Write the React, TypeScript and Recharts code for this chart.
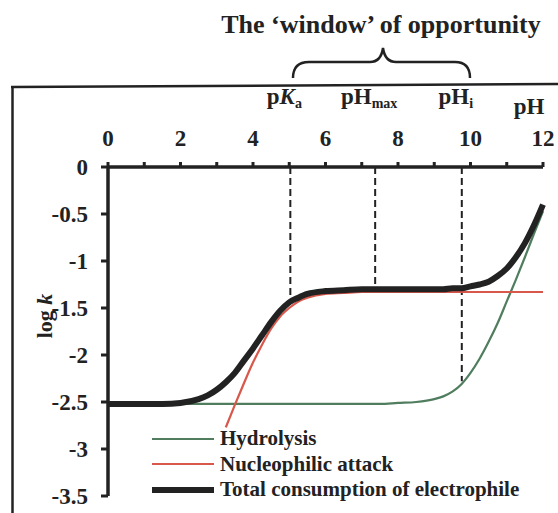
import { ComposedChart, Line, XAxis, YAxis, ReferenceLine, Legend } from "recharts";

const FONT = "'Liberation Serif', 'Times New Roman', serif";
const INK = "#222";

// pH grid and log k for each pathway
const phValues = [
  0, 0.5, 1, 1.5, 2, 2.5, 2.75, 3, 3.25, 3.5, 3.75, 4, 4.25, 4.5, 4.75, 5, 5.25, 5.5, 6, 6.5,
  7, 7.5, 8, 8.5, 9, 9.25, 9.5, 9.75, 10, 10.25, 10.5, 10.75, 11, 11.25, 11.5, 11.75, 12,
];
const hydrolysis = [
  -2.52, -2.52, -2.52, -2.52, -2.52, -2.52, -2.52, -2.52, -2.52, -2.52, -2.52, -2.52, -2.52,
  -2.52, -2.52, -2.52, -2.52, -2.52, -2.52, -2.52, -2.52, -2.52, -2.51, -2.5, -2.47, -2.44,
  -2.39, -2.31, -2.19, -2.04, -1.86, -1.66, -1.43, -1.2, -0.96, -0.71, -0.47,
];
const nucleophilic = [
  null, null, null, null, null, null, null, null, -2.77, -2.53, -2.3, -2.08, -1.89, -1.72,
  -1.59, -1.5, -1.43, -1.39, -1.35, -1.34, -1.33, -1.33, -1.33, -1.33, -1.33, -1.33, -1.33,
  -1.33, -1.33, -1.33, -1.33, -1.33, -1.33, -1.33, -1.33, -1.33, -1.33,
];
const totalConsumption = [
  -2.52, -2.52, -2.52, -2.52, -2.51, -2.47, -2.43, -2.37, -2.29, -2.19, -2.06, -1.93, -1.79,
  -1.65, -1.53, -1.44, -1.39, -1.35, -1.32, -1.31, -1.3, -1.3, -1.3, -1.3, -1.3, -1.3, -1.29,
  -1.29, -1.27, -1.25, -1.22, -1.16, -1.08, -0.96, -0.81, -0.62, -0.4,
];

const phTicks = [0, 1, 2, 3, 4, 5, 6, 7, 8, 9, 10, 11, 12];
const logkTicks = [0, -0.5, -1, -1.5, -2, -2.5, -3, -3.5];

// dashed drop lines: pKa, pHmax, pHi
const markerPh = [5.03, 7.37, 9.76];
const markerLogk = [-1.43, -1.27, -2.28];
const markerSub = ["a", "max", "i"];

const rows = phValues.map((ph, i) => ({
  ph,
  hydrolysis: hydrolysis[i],
  nucleophilic: nucleophilic[i],
  total: totalConsumption[i],
}));

const series = [
  { key: "hydrolysis", name: "Hydrolysis", color: "#4f7d5e", width: 2.2 },
  { key: "nucleophilic", name: "Nucleophilic attack", color: "#d8584c", width: 2.2 },
  { key: "total", name: "Total consumption of electrophile", color: INK, width: 6 },
];

const XTick = ({ x, payload }: any) =>
  payload.value % 2 === 0 ? (
    <text x={x} y={146} textAnchor="middle" fontFamily={FONT} fontWeight={700} fontSize={23} fill={INK}>
      {payload.value}
    </text>
  ) : (
    <g />
  );

const YTick = ({ y, payload }: any) => (
  <text x={88} y={y} dy="0.35em" textAnchor="end" fontFamily={FONT} fontWeight={700} fontSize={23} fill={INK}>
    {String(payload.value)}
  </text>
);

const markerLabel = (i: number) => (props: any) => {
  const x = props.viewBox?.x ?? 0;
  return (
    <text x={x - 6} y={104} textAnchor="middle" fontFamily={FONT} fontWeight={700} fontSize={23} fill={INK}>
      <tspan>p</tspan>
      {i === 0 ? <tspan fontStyle="italic">K</tspan> : <tspan>H</tspan>}
      <tspan fontSize={14} dy={4}>{markerSub[i]}</tspan>
    </text>
  );
};

const PhTitle = () => (
  <text x={529} y={114} textAnchor="middle" fontFamily={FONT} fontWeight={700} fontSize={23} fill={INK}>
    pH
  </text>
);

const LogkTitle = () => (
  <g transform="translate(44,316) rotate(-90)">
    <rect x={-28} y={-13} width={56} height={24} fill="#fff" />
    <text x={0} y={0} dy="0.35em" textAnchor="middle" fontFamily={FONT} fontWeight={700} fontSize={22} fill={INK}>
      log <tspan fontStyle="italic">k</tspan>
    </text>
  </g>
);

const renderLegend = () => (
  <div style={{ fontFamily: FONT, fontWeight: 700, fontSize: 21, color: INK }}>
    {series.map((s) => (
      <div key={s.key} style={{ display: "flex", alignItems: "center", height: 25.5 }}>
        <svg width={62} height={10}>
          <line x1={0} x2={62} y1={5} y2={5} stroke={s.color} strokeWidth={s.width} />
        </svg>
        <span style={{ marginLeft: 6, whiteSpace: "nowrap" }}>{s.name}</span>
      </div>
    ))}
  </div>
);

export default function App() {
  return (
    <div style={{ position: "absolute", left: 0, top: 0, width: 558, height: 513, background: "#fff" }}>
      {/* frame, title and brace */}
      <svg width={558} height={513} style={{ position: "absolute", left: 0, top: 0 }}>
        <line x1={12.5} y1={87} x2={12.5} y2={513} stroke={INK} strokeWidth={2.5} />
        <line x1={11} y1={87} x2={558} y2={84} stroke={INK} strokeWidth={2.5} />
        <text x={381} y={33} textAnchor="middle" fontFamily={FONT} fontWeight={700} fontSize={26} fill={INK}>
          The ‘window’ of opportunity
        </text>
        <path
          d="M 293 78 Q 293 62 309 62 L 370 62 Q 381 62 383 48 Q 385 62 396 62 L 455 62 Q 470 62 470 78"
          fill="none"
          stroke={INK}
          strokeWidth={2.5}
        />
      </svg>

      <ComposedChart
        width={558}
        height={513}
        data={rows}
        margin={{ top: 0, right: 15, bottom: 17, left: 0 }}
        style={{ position: "absolute", left: 0, top: 0 }}
      >
        <XAxis
          dataKey="ph"
          type="number"
          orientation="top"
          domain={[0, 12]}
          ticks={phTicks}
          height={167}
          tick={<XTick />}
          tickSize={5}
          tickLine={{ stroke: INK, strokeWidth: 3 }}
          axisLine={{ stroke: INK, strokeWidth: 3.5 }}
          label={<PhTitle />}
        />
        <YAxis
          type="number"
          domain={[-3.5, 0]}
          ticks={logkTicks}
          width={108}
          tick={<YTick />}
          tickSize={7}
          tickLine={{ stroke: INK, strokeWidth: 3 }}
          axisLine={{ stroke: INK, strokeWidth: 3.5 }}
          label={<LogkTitle />}
        />

        {markerPh.map((ph, i) => (
          <ReferenceLine
            key={ph}
            segment={[
              { x: ph, y: 0 },
              { x: ph, y: markerLogk[i] },
            ]}
            stroke={INK}
            strokeWidth={2}
            strokeDasharray="7 4"
            label={markerLabel(i)}
          />
        ))}

        <Line type="monotone" dataKey="hydrolysis" name="Hydrolysis" stroke={series[0].color} strokeWidth={series[0].width} dot={false} activeDot={false} isAnimationActive={false} />
        <Line type="monotone" dataKey="nucleophilic" name="Nucleophilic attack" stroke={series[1].color} strokeWidth={series[1].width} dot={false} activeDot={false} isAnimationActive={false} />
        <Line type="monotone" dataKey="total" name="Total consumption of electrophile" stroke={series[2].color} strokeWidth={series[2].width} dot={false} activeDot={false} isAnimationActive={false} />

        <Legend
          layout="vertical"
          align="center"
          verticalAlign="middle"
          content={renderLegend}
          wrapperStyle={{ left: 152, top: 426, width: "auto" }}
        />
      </ComposedChart>
    </div>
  );
}
